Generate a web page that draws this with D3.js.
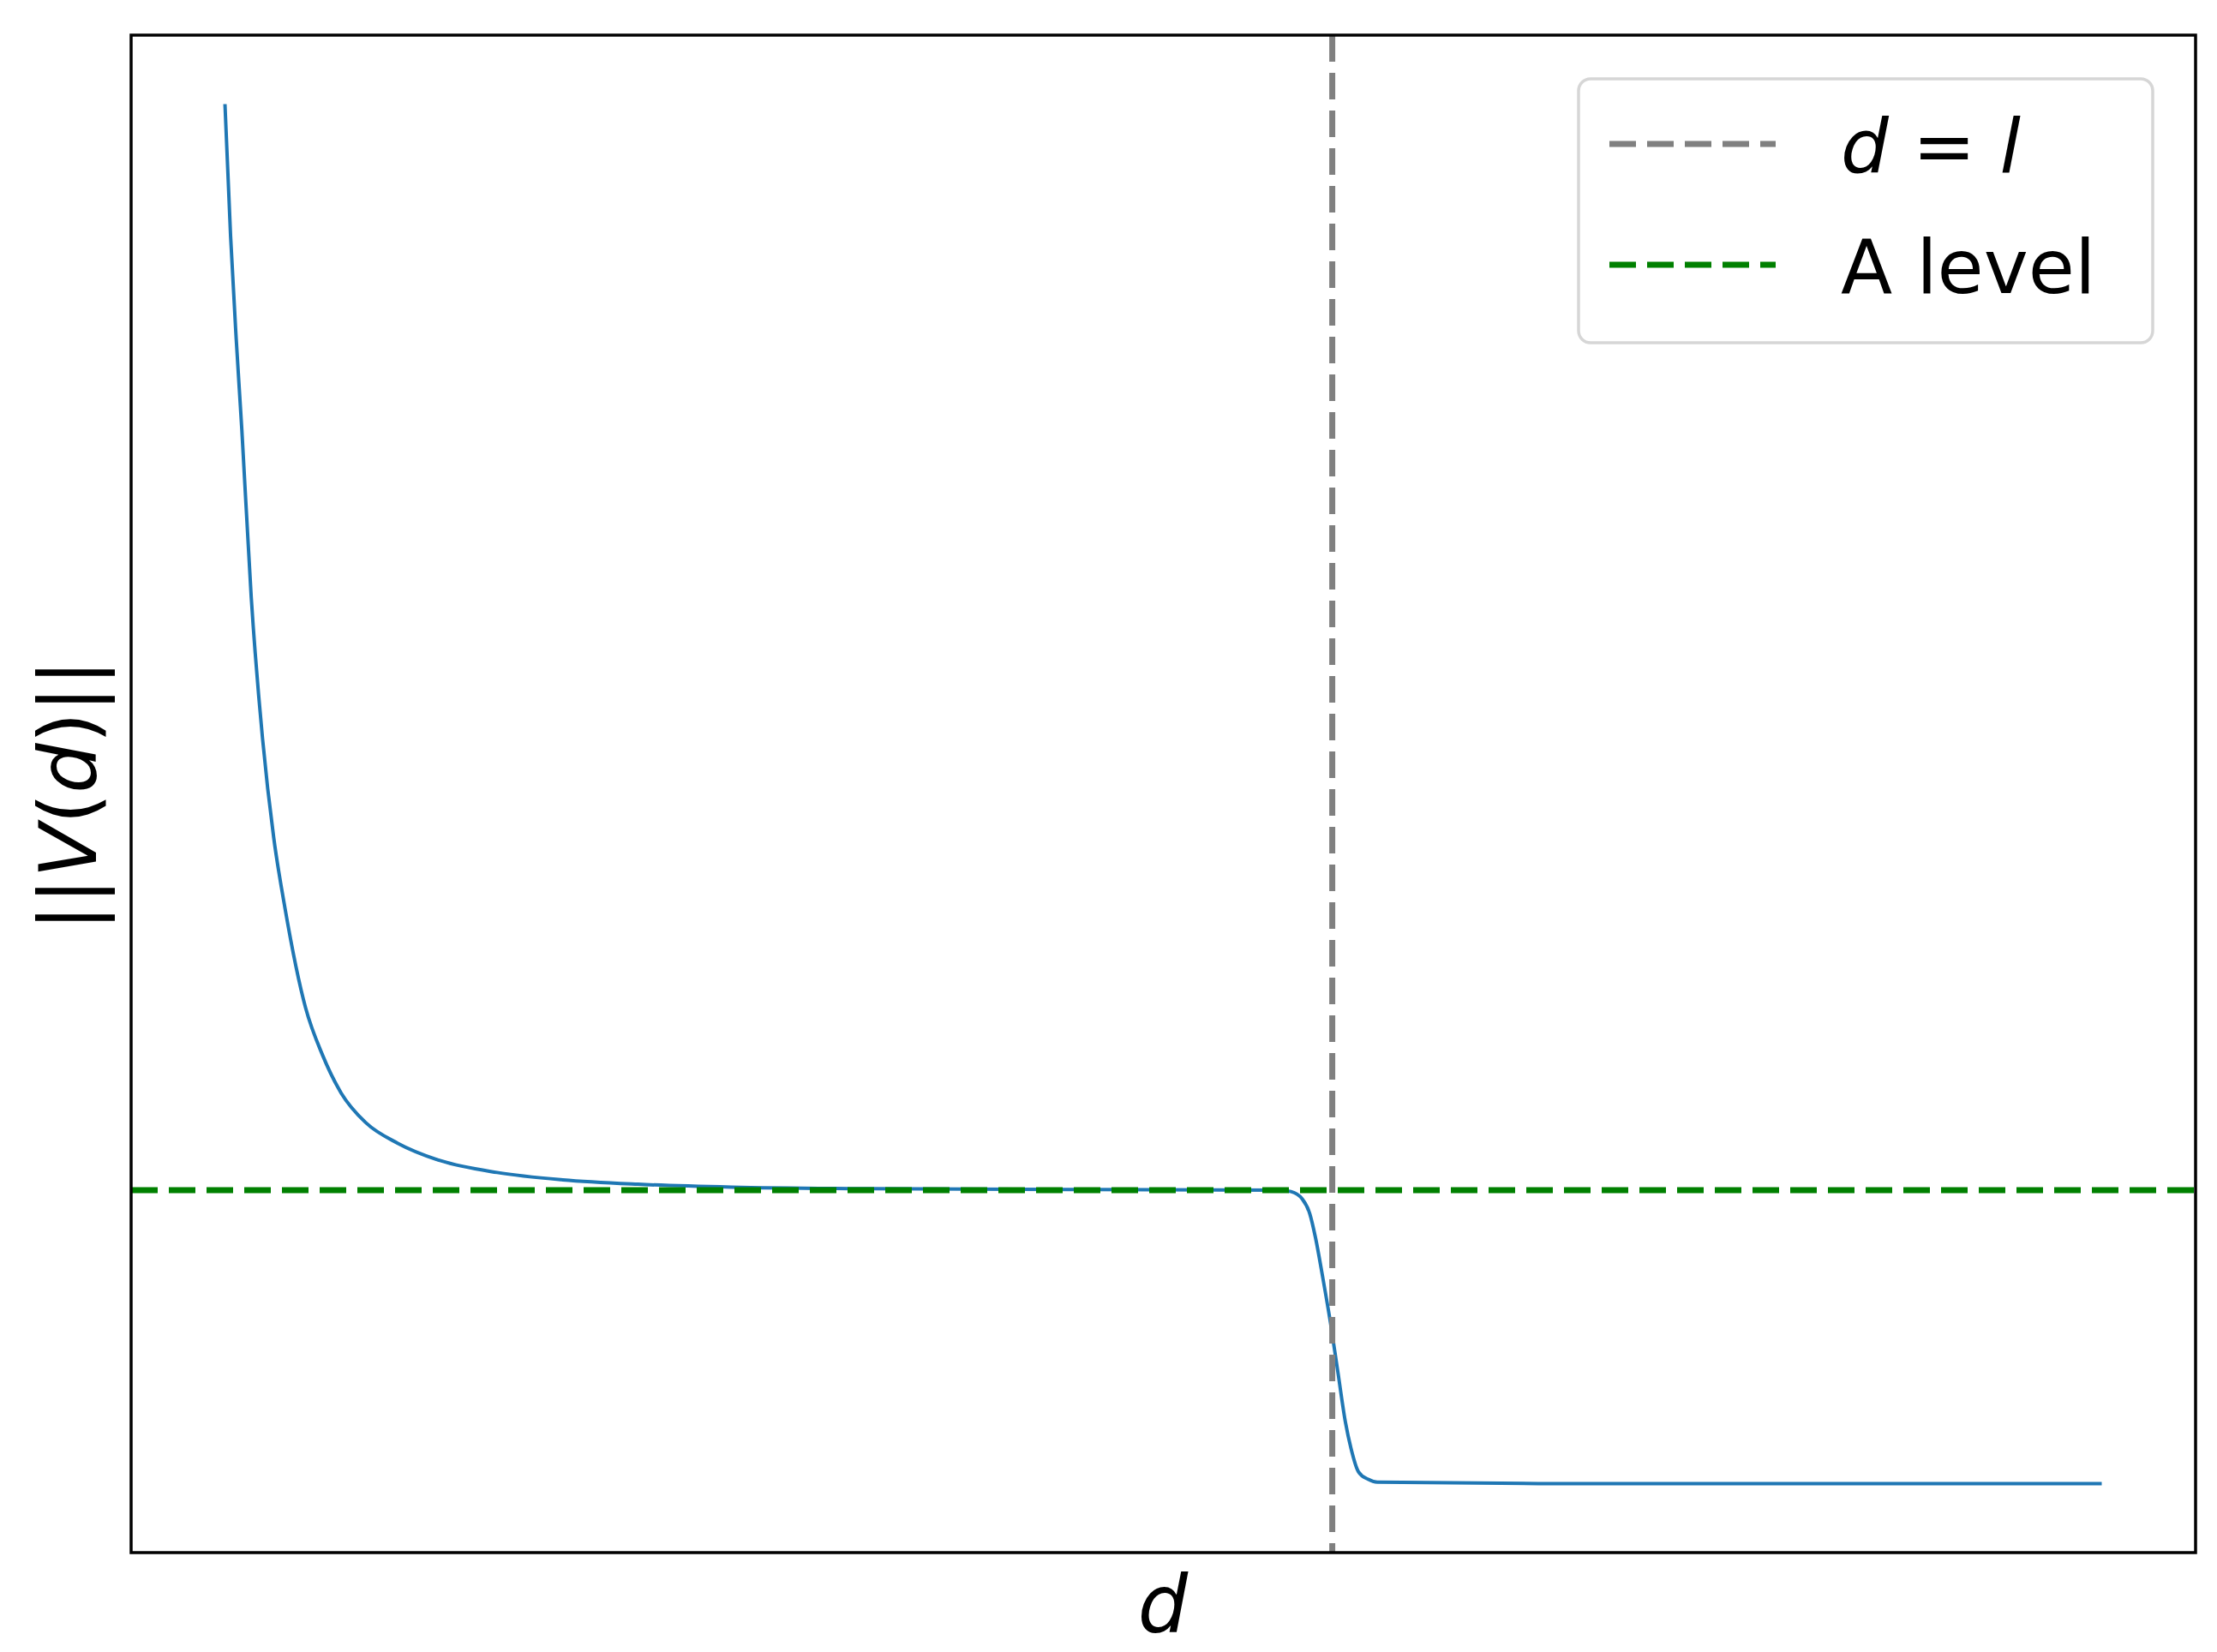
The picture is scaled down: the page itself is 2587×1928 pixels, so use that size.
<!DOCTYPE html>
<html><head><meta charset="utf-8">
<script src="https://cdn.jsdelivr.net/npm/d3@7"></script>
<style>body{margin:0;background:#fff}</style>
</head><body>
<svg class="chart"></svg>
<script>
// curve (d in arbitrary units, ||V(d)|| relative to A level = 1)
const dValues = [0, 0.03, 0.06, 0.09, 0.14, 0.2, 0.26, 0.32, 0.43, 0.52, 0.62, 0.75, 0.92, 1.15, 1.45, 1.8, 2.2, 2.7, 3.35, 4.5, 5.62, 5.68, 5.74, 5.78, 5.81, 5.85, 5.89, 5.93, 5.97, 6.0, 6.04, 6.09, 6.14, 7, 8, 9, 10]
const vValues = [4.70, 4.25, 3.90, 3.59, 3.02, 2.54, 2.20, 1.96, 1.62, 1.46, 1.33, 1.23, 1.16, 1.10, 1.06, 1.035, 1.02, 1.01, 1.005, 1.002, 1.0, 0.995, 0.97, 0.92, 0.84, 0.70, 0.55, 0.38, 0.21, 0.12, 0.04, 0.015, 0.005, 0, 0, 0, 0]
const lValue = 5.9
const aLevel = 1
const legendLabels = ["d = l", "A level"]

const W = 2587, H = 1928
const svg = d3.select('svg.chart').attr('width', W).attr('height', H)
const pLeft = 153, pRight = 2562, pTop = 41, pBottom = 1812

const x = d3.scaleLinear().domain([-0.5, 10.5]).range([pLeft, pRight])
const y = d3.scaleLinear().domain([-0.235, 4.935]).range([pBottom, pTop])

const points = dValues.map((d, i) => ({d: d, v: vValues[i]}))

svg.append('defs').append('clipPath').attr('id', 'clip')
    .append('rect').attr('x', pLeft).attr('y', pTop).attr('width', pRight - pLeft).attr('height', pBottom - pTop)

const plot = svg.append('g').attr('clip-path', 'url(#clip)')

const line = d3.line().x(p => x(p.d)).y(p => y(p.v)).curve(d3.curveMonotoneX)
plot.append('path').datum(points)
    .attr('d', line)
    .style('fill', 'none').style('stroke', '#1f77b4').style('stroke-width', 4)

plot.append('line')
    .attr('x1', x(lValue)).attr('x2', x(lValue)).attr('y1', pTop).attr('y2', pBottom)
    .style('stroke', 'gray').style('stroke-width', 7).style('stroke-dasharray', '31,13')

plot.append('line')
    .attr('x1', pLeft).attr('x2', pRight).attr('y1', y(aLevel)).attr('y2', y(aLevel))
    .style('stroke', 'green').style('stroke-width', 7).style('stroke-dasharray', '31,13')

svg.append('rect')
    .attr('x', pLeft).attr('y', pTop).attr('width', pRight - pLeft).attr('height', pBottom - pTop)
    .style('fill', 'none').style('stroke', '#000').style('stroke-width', 3.5)

// legend
const lg = svg.append('g')
lg.append('rect').attr('x', 1842).attr('y', 92).attr('width', 670).attr('height', 308)
    .attr('rx', 14).style('fill', '#fff').style('fill-opacity', 0.8)
    .style('stroke', '#d6d6d6').style('stroke-width', 3.5)
const colors = ['gray', 'green']
legendLabels.forEach((lab, i) => {
    const ly = 168 + i * 141
    lg.append('line').attr('x1', 1878).attr('x2', 2072).attr('y1', ly).attr('y2', ly)
        .style('stroke', colors[i]).style('stroke-width', 7).style('stroke-dasharray', '31,13')
    const t = lg.append('text').attr('x', 2148).attr('y', ly + 33)
        .style('font-family', 'DejaVu Sans').style('font-size', '88px')
    if (i === 0) {
        t.append('tspan').style('font-style', 'italic').text('d')
        t.append('tspan').text(' = ')
        t.append('tspan').style('font-style', 'italic').text('l')
    } else {
        t.text(lab)
    }
})

// axis labels
svg.append('text')
    .attr('x', 1357).attr('y', 1905).attr('text-anchor', 'middle')
    .style('font-family', 'DejaVu Sans').style('font-size', '92px').style('font-style', 'italic')
    .text('d')

const yl = svg.append('text')
    .attr('text-anchor', 'middle')
    .attr('transform', 'translate(112,' + 928 + ')rotate(-90)')
    .style('font-family', 'DejaVu Sans').style('font-size', '92px')
yl.append('tspan').text('||')
yl.append('tspan').style('font-style', 'italic').text('V')
yl.append('tspan').text('(')
yl.append('tspan').style('font-style', 'italic').text('d')
yl.append('tspan').text(')||')
</script>
</body></html>
